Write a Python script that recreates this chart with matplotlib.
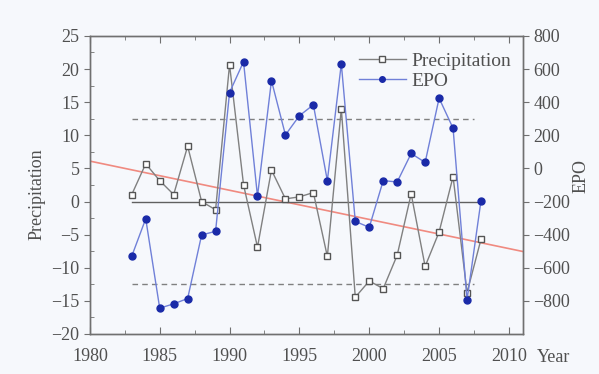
import numpy as np
import matplotlib
matplotlib.use('Agg')
import matplotlib.pyplot as plt
from matplotlib.ticker import MultipleLocator

years = list(range(1983, 2009))
precip = [1.05, 5.7, 3.15, 1.05, 8.35, 0.0, -1.25, 20.65, 2.55, -6.9,
          4.75, 0.4, 0.7, 1.35, -8.3, 14.0, -14.45, -12.0, -13.15, -8.1,
          1.15, -9.8, -4.6, 3.75, -13.75, -5.7]
epo = [-530, -304, -844, -818, -786, -402, -380, 458, 644, -168,
       530, 202, 318, 384, -74, 632, -320, -356, -74, -82,
       90, 36, 424, 242, -794, -194]

# trend line (precipitation units)
trend_years = [1980, 2011]
trend_vals = [6.1, -7.55]
# reference levels
dash_levels = [12.5, -12.5]
dash_span = [1983, 2007.5]
zero_span = [1983, 2008]

left_ticks = [-20, -15, -10, -5, 0, 5, 10, 15, 20, 25]
right_ticks = [-800, -600, -400, -200, 0, 200, 400, 600, 800]
x_ticks = [1980, 1985, 1990, 1995, 2000, 2005, 2010]

plt.rcParams['font.family'] = ['Liberation Serif', 'DejaVu Serif']
plt.rcParams['font.size'] = 13
txt = '#505050'
bg = '#f6f8fc'

fig = plt.figure(figsize=(5.99, 3.74), dpi=100, facecolor=bg)
ax = fig.add_axes([0.150, 0.107, 0.723, 0.797])
ax.set_facecolor(bg)
ax2 = ax.twinx()

ax.plot(trend_years, trend_vals, color='#f08a80', lw=1.2, zorder=1)
for lv in dash_levels:
    ax.plot(dash_span, [lv, lv], color='#808080', lw=1.0, ls=(0, (4, 3)), zorder=1)
ax.plot(zero_span, [0, 0], color='#606060', lw=1.0, zorder=1)

lp, = ax.plot(years, precip, color='#808080', lw=1.0, marker='s', ms=4.6,
              mfc='white', mec='#555555', mew=1.0, zorder=3, label='Precipitation')
le, = ax2.plot(years, epo, color='#7080d8', lw=1.0, marker='o', ms=5.0,
               mfc='#1a2aa8', mec='#1a2aa8', zorder=3, label='EPO')

ax.set_xlim(1980, 2011)
ax.set_ylim(-20, 25)
ax2.set_ylim(-1000, 800)

ax.set_xticks(x_ticks)
ax.set_xticklabels([str(v) for v in x_ticks])
ax.xaxis.set_minor_locator(MultipleLocator(2.5))
ax.set_yticks(left_ticks)
ax.set_yticklabels([str(v).replace('-', '\u2212') for v in left_ticks])
ax.yaxis.set_minor_locator(MultipleLocator(2.5))
ax2.set_yticks(right_ticks)
ax2.set_yticklabels([str(v).replace('-', '\u2212') for v in right_ticks])

ax.tick_params(axis='x', which='both', direction='in', top=True, colors='#707070',
               labelcolor=txt, pad=10)
ax.tick_params(axis='x', which='major', length=5)
ax.tick_params(axis='x', which='minor', length=3)
ax.tick_params(axis='y', which='major', direction='out', length=4, colors='#707070',
               labelcolor=txt)
ax.tick_params(axis='y', which='minor', direction='in', length=3, colors='#707070')
ax2.tick_params(axis='y', direction='out', length=4, colors='#707070', labelcolor=txt)

for a in (ax, ax2):
    for s in a.spines.values():
        s.set_color('#707070')
        s.set_linewidth(1.0)

ax.set_ylabel('Precipitation', color=txt)
ax.yaxis.set_label_coords(-0.103, 0.47)
ax2.set_ylabel('EPO', color=txt)
ax2.yaxis.set_label_coords(1.115, 0.53)
fig.text(0.896, 0.043, 'Year', color=txt, fontsize=13, ha='left', va='center')

leg = ax2.legend([lp, le], ['Precipitation', 'EPO'], loc='upper right',
                 bbox_to_anchor=(1.0, 0.985), frameon=False, fontsize=14,
                 handlelength=2.4, borderaxespad=0.2, markerscale=0.8,
                 handletextpad=0.3, labelspacing=0.15)
for t in leg.get_texts():
    t.set_color(txt)

fig.savefig('out.png', dpi=100, facecolor=bg)
